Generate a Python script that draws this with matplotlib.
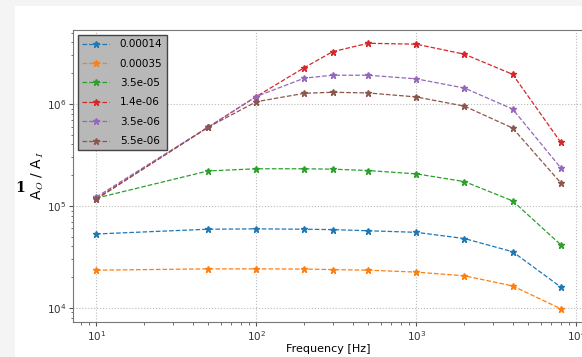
import matplotlib
matplotlib.use("Agg")
import matplotlib.pyplot as plt
from matplotlib.patches import Rectangle

plt.rcParams['mathtext.fontset'] = 'cm'
plt.rcParams['font.family'] = 'DejaVu Sans'

# frequencies [Hz]
freqs = [10, 50, 100, 200, 300, 500, 1000, 2000, 4000, 8000]

# series labels (legend order)
labels = ["0.00014", "0.00035", "3.5e-05", "1.4e-06", "3.5e-06", "5.5e-06"]

# A_O / A_I
gain_00014 = [5.3e4, 5.9e4, 5.95e4, 5.9e4, 5.85e4, 5.7e4, 5.5e4, 4.78e4, 3.55e4, 1.6e4]
gain_00035 = [2.34e4, 2.41e4, 2.41e4, 2.4e4, 2.37e4, 2.34e4, 2.24e4, 2.06e4, 1.64e4, 9.8e3]
gain_35e5 = [1.19e5, 2.2e5, 2.31e5, 2.31e5, 2.29e5, 2.22e5, 2.06e5, 1.73e5, 1.12e5, 4.15e4]
gain_14e6 = [1.18e5, 5.9e5, 1.18e6, 2.27e6, 3.25e6, 3.93e6, 3.85e6, 3.07e6, 1.95e6, 4.2e5]
gain_35e6 = [1.22e5, 5.9e5, 1.18e6, 1.79e6, 1.91e6, 1.91e6, 1.76e6, 1.43e6, 8.9e5, 2.36e5]
gain_55e6 = [1.16e5, 5.9e5, 1.05e6, 1.27e6, 1.3e6, 1.28e6, 1.17e6, 9.5e5, 5.8e5, 1.68e5]

series = [gain_00014, gain_00035, gain_35e5, gain_14e6, gain_35e6, gain_55e6]

fig = plt.figure(figsize=(5.82, 3.57), dpi=100)
fig.patch.set_facecolor('#f4f4f4')
# white page, slightly offset inside the grey canvas
fig.patches.append(Rectangle((15 / 582, 0), 1, 1 - 6 / 357, transform=fig.transFigure,
                             facecolor='white', edgecolor='none', zorder=-10))

ax = fig.add_axes([73 / 582, 35 / 357, 511 / 582, 292 / 357])

for lab, vals in zip(labels, series):
    ax.plot(freqs, vals, '--', marker='*', markersize=4.5, linewidth=0.9, label=lab)

ax.set_xscale('log')
ax.set_yscale('log')
ax.grid(True, which='major', linestyle=':', color='#bbbbbb', linewidth=0.8)

ax.set_xlabel("Frequency [Hz]", fontsize=8, labelpad=1)
ax.set_ylabel(r"A$_O$ / A$_I$", fontsize=10)
ax.yaxis.set_label_coords(-27 / 511, 0.5)
ax.tick_params(axis='both', which='both', labelsize=7.5, colors='#555555',
               labelcolor='#333333', pad=2)
ax.tick_params(which='major', length=3)
ax.tick_params(which='minor', length=1.8)
for s in ax.spines.values():
    s.set_color('#777777')

leg = ax.legend(loc='upper left', fontsize=7.5, handlelength=2.6, handletextpad=1.0,
                labelspacing=0.9, fancybox=False, framealpha=1,
                facecolor='#b8b8b8', edgecolor='#444444')

# cut-off character at the left edge of the page
fig.text(15 / 582, 1 - 188 / 357, "1", fontsize=10, fontweight='bold',
         family='DejaVu Serif', ha='left', va='center')

fig.savefig("out.png", dpi=100, facecolor=fig.get_facecolor())
